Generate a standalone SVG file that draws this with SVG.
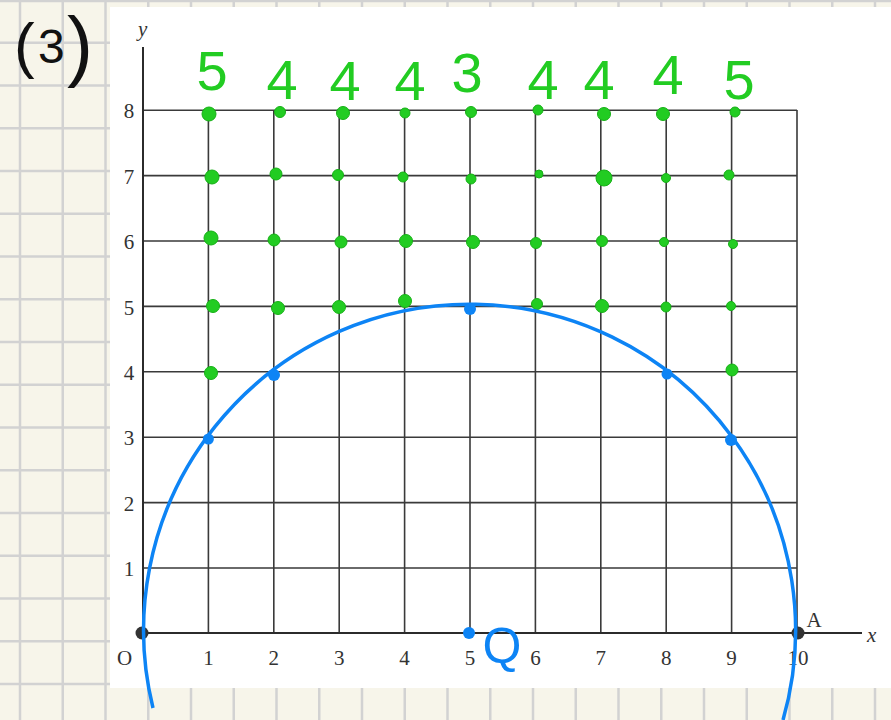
<svg xmlns="http://www.w3.org/2000/svg" width="891" height="720" viewBox="0 0 891 720">
<style>
.bgl{stroke:#d2d2d2;stroke-width:2.5}
.ax{stroke:#2b2b2b;stroke-width:2;fill:none}
.gl{stroke:#3a3a3a;stroke-width:1.6;fill:none}
.tk{font-family:"Liberation Serif","DejaVu Serif",serif;font-size:21px;fill:#333;text-anchor:middle}
.it{font-family:"Liberation Serif","DejaVu Serif",serif;font-style:italic;font-size:21px;fill:#333}
.gd{fill:#22cc22;stroke:#16b016;stroke-width:1}
.gn{font-family:"Liberation Sans","DejaVu Sans",sans-serif;font-size:56px;fill:#22cc22;text-anchor:middle}
.bd{fill:#0d84f5}
.hw{font-family:"Liberation Sans","DejaVu Sans",sans-serif;fill:#111}
</style>
<rect x="0" y="0" width="891" height="720" fill="#f7f5ea"/>
<g id="paper-grid">
<path class="bgl" d="M20 0V720M62.75 0V720M105.5 0V720M148.25 0V720M191 0V720M233.75 0V720M276.5 0V720M319.25 0V720M362 0V720M404.75 0V720M447.5 0V720M490.25 0V720M533 0V720M575.75 0V720M618.5 0V720M661.25 0V720M704 0V720M746.75 0V720M789.5 0V720M832.25 0V720M875 0V720"/>
<path class="bgl" d="M0 1H891M0 42.75H891M0 85.5H891M0 128.25H891M0 171H891M0 213.75H891M0 256.5H891M0 299.25H891M0 342H891M0 384.75H891M0 427.5H891M0 470.25H891M0 513H891M0 555.75H891M0 598.5H891M0 641.25H891M0 684H891"/>
</g>
<rect x="110" y="7" width="781" height="681" fill="#ffffff"/>
<g id="label-3">
<text class="hw" x="14" y="66" font-size="62">(</text>
<text class="hw" x="38" y="63" font-size="48">3</text>
<text class="hw" x="67" y="72" font-size="78">)</text>
</g>
<g id="plot-grid">
<path class="gl" d="M208.4 110V633M273.8 110V633M339.2 110V633M404.6 110V633M470 110V633M535.4 110V633M600.8 110V633M666.2 110V633M731.6 110V633M797 110V633"/>
<path class="gl" d="M143 110.2H797M143 175.6H797M143 241H797M143 306.4H797M143 371.8H797M143 437.2H797M143 502.6H797M143 568H797"/>
</g>
<g id="axes">
<path class="ax" d="M143 633H862M143 633V47"/>
<text class="it" x="138" y="36">y</text>
<text class="it" x="867" y="642">x</text>
<text class="tk" x="124.5" y="665">O</text>
<text class="tk" x="208.4" y="665">1</text>
<text class="tk" x="273.8" y="665">2</text>
<text class="tk" x="339.2" y="665">3</text>
<text class="tk" x="404.6" y="665">4</text>
<text class="tk" x="470" y="665">5</text>
<text class="tk" x="535.4" y="665">6</text>
<text class="tk" x="600.8" y="665">7</text>
<text class="tk" x="666.2" y="665">8</text>
<text class="tk" x="731.6" y="665">9</text>
<text class="tk" x="798" y="665">10</text>
<text class="tk" x="129" y="576">1</text>
<text class="tk" x="129" y="511">2</text>
<text class="tk" x="129" y="445">3</text>
<text class="tk" x="129" y="380">4</text>
<text class="tk" x="129" y="315">5</text>
<text class="tk" x="129" y="249">6</text>
<text class="tk" x="129" y="184">7</text>
<text class="tk" x="129" y="118">8</text>
<text class="tk" x="814" y="627">A</text>
<circle cx="142" cy="633" r="6.5" fill="#333"/>
<circle cx="798" cy="633" r="6.5" fill="#333"/>
</g>
<g id="green-counts">
<text class="gn" x="212" y="90" font-size="64">5</text>
<text class="gn" x="282" y="99">4</text>
<text class="gn" x="345" y="100">4</text>
<text class="gn" x="410" y="100">4</text>
<text class="gn" x="467" y="92" font-size="46">3</text>
<text class="gn" x="543" y="99">4</text>
<text class="gn" x="599" y="99">4</text>
<text class="gn" x="668" y="94" font-size="42">4</text>
<text class="gn" x="739" y="99" font-size="64">5</text>
</g>
<g id="green-points">
<circle class="gd" cx="209" cy="114" r="7"/><circle class="gd" cx="280" cy="112" r="5.5"/><circle class="gd" cx="343" cy="113" r="6.5"/><circle class="gd" cx="405" cy="113" r="5"/><circle class="gd" cx="471" cy="112" r="5.5"/><circle class="gd" cx="538" cy="110" r="5"/><circle class="gd" cx="604" cy="114" r="6.5"/><circle class="gd" cx="663" cy="114" r="6.5"/><circle class="gd" cx="735" cy="112" r="5"/>
<circle class="gd" cx="212" cy="177" r="7"/><circle class="gd" cx="276" cy="174" r="6"/><circle class="gd" cx="338" cy="175" r="5.5"/><circle class="gd" cx="403" cy="177" r="5"/><circle class="gd" cx="471" cy="179" r="5"/><circle class="gd" cx="539" cy="174" r="4"/><circle class="gd" cx="604" cy="178" r="8"/><circle class="gd" cx="666" cy="178" r="4.5"/><circle class="gd" cx="729" cy="175" r="5"/>
<circle class="gd" cx="211" cy="238" r="7"/><circle class="gd" cx="274" cy="240" r="6"/><circle class="gd" cx="341" cy="242" r="6"/><circle class="gd" cx="406" cy="241" r="6.5"/><circle class="gd" cx="473" cy="242" r="6.5"/><circle class="gd" cx="536" cy="243" r="5.5"/><circle class="gd" cx="602" cy="241" r="5.5"/><circle class="gd" cx="664" cy="242" r="4.5"/><circle class="gd" cx="733" cy="244" r="4.5"/>
<circle class="gd" cx="213" cy="306" r="6.5"/><circle class="gd" cx="278" cy="308" r="6.5"/><circle class="gd" cx="339" cy="307" r="6.5"/><circle class="gd" cx="405" cy="301" r="6.5"/><circle class="gd" cx="537" cy="304" r="5.5"/><circle class="gd" cx="602" cy="306" r="6.5"/><circle class="gd" cx="666" cy="307" r="5"/><circle class="gd" cx="731" cy="306" r="4.5"/>
<circle class="gd" cx="211" cy="373" r="6.5"/><circle class="gd" cx="732" cy="370" r="6"/>
</g>
<g id="blue-circle">
<path d="M153 708A326 326 0 1 1 783 720" fill="none" stroke="#0d84f5" stroke-width="3.5"/>
<circle class="bd" cx="208.4" cy="439" r="5.5"/>
<circle class="bd" cx="274" cy="375" r="6"/>
<circle class="bd" cx="470" cy="309" r="6"/>
<circle class="bd" cx="667" cy="374" r="5.5"/>
<circle class="bd" cx="731" cy="440" r="6"/>
<circle class="bd" cx="469" cy="633" r="6"/>
<text x="502" y="663" font-family="Liberation Sans,DejaVu Sans,sans-serif" font-size="50" fill="#0d84f5" text-anchor="middle">Q</text>
</g>
</svg>
